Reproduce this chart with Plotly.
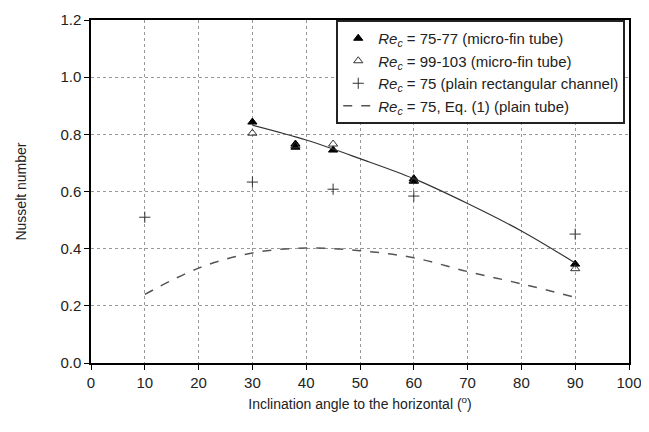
import plotly.graph_objects as go

# measured data
angle_fin_75 = [30, 38, 38, 45, 60, 60, 90]
nu_fin_75 = [0.843, 0.766, 0.755, 0.745, 0.645, 0.638, 0.346]

angle_fin_99 = [30, 38, 45, 60, 90]
nu_fin_99 = [0.804, 0.760, 0.766, 0.635, 0.330]

angle_rect = [10, 30, 45, 60, 90]
nu_rect = [0.51, 0.633, 0.608, 0.584, 0.451]

# fitted line through micro-fin data
angle_fit = [30, 40, 50, 60, 70, 80, 90]
nu_fit = [0.832, 0.780, 0.715, 0.645, 0.558, 0.462, 0.350]

# Eq. (1), plain tube
angle_eq = [10, 20, 30, 40, 50, 60, 70, 80, 90]
nu_eq = [0.240, 0.332, 0.385, 0.402, 0.393, 0.368, 0.320, 0.277, 0.230]

x_ticks = list(range(0, 101, 10))
y_ticks = [0.0, 0.2, 0.4, 0.6, 0.8, 1.0, 1.2]

re = "<i>Re<sub>c</sub></i>"
font = "Liberation Sans, Arial, sans-serif"

fig = go.Figure()
fig.add_trace(go.Scatter(x=angle_fin_75, y=nu_fin_75, mode="markers",
                         name=f"{re} = 75-77 (micro-fin tube)",
                         marker=dict(symbol="triangle-up", size=8, color="black",
                                     line=dict(color="black", width=1))))
fig.add_trace(go.Scatter(x=angle_fin_99, y=nu_fin_99, mode="markers",
                         name=f"{re} = 99-103 (micro-fin tube)",
                         marker=dict(symbol="triangle-up-open", size=8, color="#333333",
                                     line=dict(width=1))))
fig.add_trace(go.Scatter(x=angle_rect, y=nu_rect, mode="markers",
                         name=f"{re} = 75 (plain rectangular channel)",
                         marker=dict(symbol="cross-thin", size=8,
                                     line=dict(color="#333333", width=1))))
fig.add_trace(go.Scatter(x=angle_eq, y=nu_eq, mode="lines",
                         name=f"{re} = 75, Eq. (1) (plain tube)",
                         line=dict(color="#555555", width=1.5, dash="dash", shape="spline")))
fig.add_trace(go.Scatter(x=angle_fit, y=nu_fit, mode="lines", showlegend=False,
                         line=dict(color="#333333", width=1.2, shape="spline")))

fig.update_layout(
    width=649, height=432,
    margin=dict(l=83, r=28, t=12, b=77, autoexpand=False),
    paper_bgcolor="white", plot_bgcolor="white",
    font=dict(family=font, size=15, color="#222222"),
    showlegend=True,
    legend=dict(x=0.993, y=1, xanchor="right", yanchor="top",
                bgcolor="white", bordercolor="#222222", borderwidth=2,
                font=dict(size=15), tracegroupgap=2, itemwidth=30),
    xaxis=dict(range=[0, 100], tickvals=x_ticks, showgrid=True, automargin=False,
               gridcolor="#999999", griddash="3px,3px", gridwidth=1,
               showline=True, linecolor="black", linewidth=1.5, mirror=True,
               ticks="outside", ticklen=5, tickcolor="black", zeroline=False,
               title=dict(text="Inclination angle to the horizontal (<sup>o</sup>)",
                          font=dict(size=14), standoff=9)),
    yaxis=dict(range=[0, 1.2], tickvals=y_ticks, tickformat=".1f", showgrid=True,
               automargin=False,
               gridcolor="#999999", griddash="3px,3px", gridwidth=1,
               showline=True, linecolor="black", linewidth=1.5, mirror=True,
               ticks="outside", ticklen=5, tickcolor="black", zeroline=False,
               title=dict(text="Nusselt number", font=dict(size=14), standoff=30)),
)

fig.write_html("out.html")
